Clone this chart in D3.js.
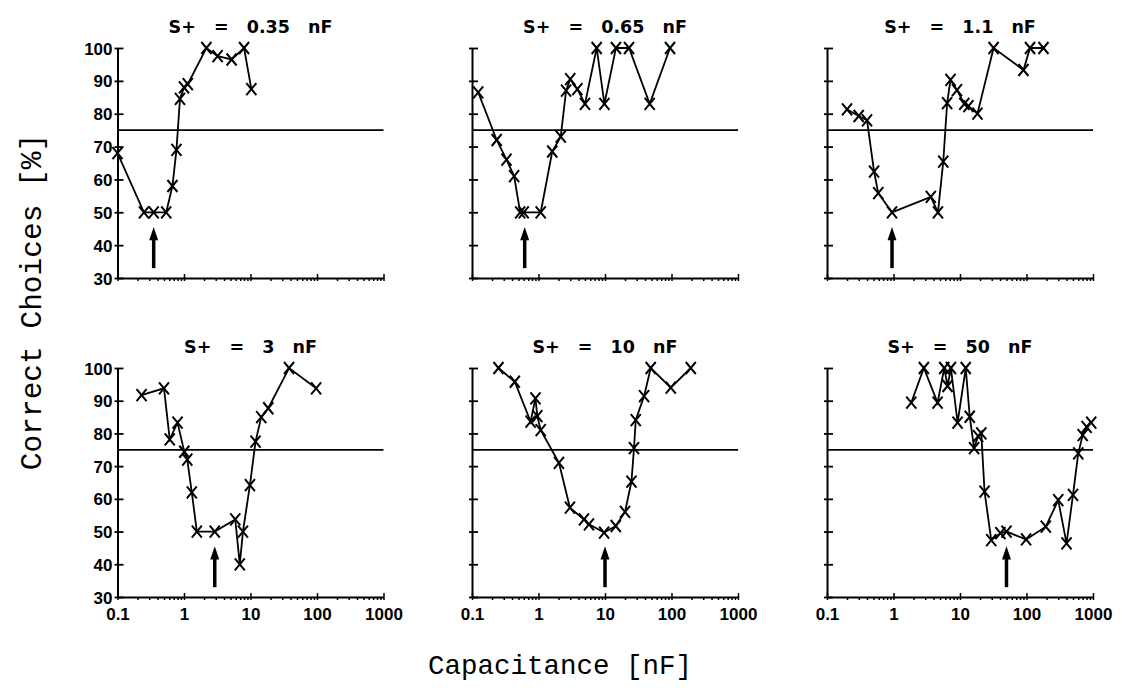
<!DOCTYPE html>
<html lang="en">
<head>
    <meta charset="UTF-8">
    <title>Correct choices vs capacitance</title>
    <script src="https://cdn.jsdelivr.net/npm/d3@7"></script>
    <style>
        body { margin: 0; background: #fff; }
    </style>
</head>
<body>

<script>

    const width = 1122;
    const height = 696;

    // one entry per panel
    const titles = ["S+ = 0.35 nF", "S+ = 0.65 nF", "S+ = 1.1 nF", "S+ = 3 nF", "S+ = 10 nF", "S+ = 50 nF"];
    const arrow_at = [0.35, 0.62, 0.95, 2.9, 10, 50];

    const cap_035 = [0.1, 0.25, 0.35, 0.54, 0.67, 0.77, 0.87, 1.0, 1.14, 2.17, 3.2, 5.2, 8.0, 10.3];
    const pct_035 = [68, 50, 50, 50, 58, 69, 84.5, 88, 89, 100, 97.5, 96.5, 100, 87.5];

    const cap_065 = [0.124, 0.235, 0.33, 0.43, 0.53, 0.6, 1.08, 1.61, 2.16, 2.6, 3.0, 3.84, 5.0, 7.5, 9.8, 14.6, 23, 47, 95];
    const pct_065 = [86.5, 72, 66, 61, 50, 50, 50, 68.5, 73, 87, 90.5, 87.5, 83, 100, 83, 100, 100, 83, 100];

    const cap_11 = [0.2, 0.3, 0.4, 0.51, 0.59, 0.95, 3.64, 4.66, 5.6, 6.4, 7.2, 9.0, 11.6, 13.4, 18.3, 32, 90, 113, 180];
    const pct_11 = [81.3, 79.3, 78, 62.4, 55.8, 50, 54.7, 50, 65.4, 83.2, 90.3, 87.2, 83, 82.3, 80, 100, 93.3, 100, 100];

    const cap_3 = [0.23, 0.5, 0.61, 0.8, 1.01, 1.12, 1.31, 1.56, 2.9, 5.9, 6.9, 7.7, 9.8, 11.9, 14.5, 18.5, 38, 97];
    const pct_3 = [91.7, 93.8, 78.2, 83.3, 74.4, 72, 62, 50, 50, 53.7, 40, 50, 64.2, 77.5, 85, 87.7, 100, 93.8];

    const cap_10 = [0.25, 0.44, 0.76, 0.9, 0.96, 1.08, 2.03, 2.97, 4.83, 5.74, 9.7, 14.5, 20, 25, 27.3, 29, 38.7, 48.7, 97.5, 195];
    const pct_10 = [100, 95.8, 83.6, 90.7, 85.3, 81, 71, 57.3, 53.7, 52.2, 49.7, 51.7, 56, 65.3, 75.5, 84.1, 91.4, 100, 94, 100];

    const cap_50 = [1.85, 2.86, 4.6, 5.8, 6.5, 7.3, 9.2, 12.2, 14, 16.3, 18.7, 20.9, 23.4, 29.5, 40.5, 50, 98.6, 195, 300, 400, 500, 600, 700, 800, 940];
    const pct_50 = [89.4, 100, 89.4, 100, 94.5, 100, 83.3, 100, 85.1, 75.5, 79.2, 80, 62.2, 47.4, 49.5, 50, 47.6, 51.5, 59.6, 46.4, 61.2, 73.9, 79.5, 82, 83.3];

    const caps = [cap_035, cap_065, cap_11, cap_3, cap_10, cap_50];
    const pcts = [pct_035, pct_065, pct_11, pct_3, pct_10, pct_50];

    const criterion = 75;
    const y_ticks = [30, 40, 50, 60, 70, 80, 90, 100];
    const decades = [0.1, 1, 10, 100, 1000];
    const x_ticks = d3.range(-1, 3).flatMap(e => d3.range(1, 10).map(m => +(m * Math.pow(10, e)).toPrecision(3))).concat([1000]);

    // layout of the 3x2 grid
    const col_x = [117.5, 472, 827];
    const row_y = [[48, 278], [368, 597]];
    const panel_w = 266;

    const svg = d3.select("body").append("svg")
        .attr("width", width)
        .attr("height", height)
        .style("font-family", "'DejaVu Sans', sans-serif");

    caps.forEach((cap, i) => {
        const col = i % 3, row = Math.floor(i / 3);
        const x0 = col_x[col];
        const [y_top, y_bot] = row_y[row];

        const x = d3.scaleLog().domain([0.1, 1000]).range([x0, x0 + panel_w]);
        const y = d3.scaleLinear().domain([30, 100]).range([y_bot, y_top]);

        const g = svg.append("g");

        // y axis
        const ya = g.append("g")
            .attr("transform", `translate(${x0},0)`)
            .call(d3.axisLeft(y).tickValues(y_ticks).tickSize(3).tickSizeOuter(0).tickPadding(2)
                .tickFormat(col === 0 ? d3.format("d") : () => ""));
        ya.select(".domain").attr("stroke-width", 2);
        ya.selectAll(".tick line").attr("x1", 6).attr("stroke-width", 1.8);
        ya.selectAll("text").attr("font-size", 17).attr("font-weight", "bold").attr("dy", "0.36em").attr("fill", "#000");

        // x axis
        const xa = g.append("g")
            .attr("transform", `translate(0,${y_bot})`)
            .call(d3.axisBottom(x).tickValues(x_ticks).tickSize(3).tickSizeOuter(0).tickPadding(8)
                .tickFormat(d => (row === 1 && decades.includes(d)) ? String(d) : ""));
        xa.select(".domain").attr("stroke-width", 2);
        xa.selectAll(".tick line")
            .attr("stroke-width", 1.5)
            .attr("y1", d => decades.includes(d) ? -4 : 0);
        xa.selectAll("text").attr("font-size", 17).attr("font-weight", "bold").attr("fill", "#000");

        // 75 % criterion line
        g.append("line")
            .attr("x1", x0).attr("x2", x0 + panel_w)
            .attr("y1", y(criterion)).attr("y2", y(criterion))
            .attr("stroke", "#000").attr("stroke-width", 1.8);

        const pts = cap.map((c, j) => [c, pcts[i][j]]);

        g.append("path")
            .datum(pts)
            .attr("fill", "none")
            .attr("stroke", "#000")
            .attr("stroke-width", 1.8)
            .attr("d", d3.line().x(d => x(d[0])).y(d => y(d[1])));

        g.append("g")
            .selectAll("path")
            .data(pts)
            .join("path")
            .attr("transform", d => `translate(${x(d[0])},${y(d[1])})`)
            .attr("d", "M-5,-6L5,6M-5,6L5,-6")
            .attr("stroke", "#000")
            .attr("stroke-width", 2)
            .attr("fill", "none");

        // arrow at S+
        const ax = x(arrow_at[i]);
        g.append("line")
            .attr("x1", ax).attr("x2", ax)
            .attr("y1", y(33)).attr("y2", y(42))
            .attr("stroke", "#000").attr("stroke-width", 3.5);
        g.append("path")
            .attr("d", `M${ax - 4.5},${y(41.5)}L${ax},${y(45.5)}L${ax + 4.5},${y(41.5)}Z`)
            .attr("fill", "#000");

        // panel title
        g.append("text")
            .attr("x", x0 + panel_w / 2)
            .attr("y", y_top - 15)
            .attr("text-anchor", "middle")
            .attr("font-size", 17.5)
            .attr("font-weight", "bold")
            .style("word-spacing", "12px")
            .text(titles[i]);
    });

    // shared axis titles
    svg.append("text")
        .attr("transform", "translate(41,302) rotate(-90)")
        .attr("text-anchor", "middle")
        .attr("font-family", "'Liberation Mono', monospace")
        .attr("font-size", 29.5)
        .text("Correct Choices [%]");

    svg.append("text")
        .attr("x", 560)
        .attr("y", 674)
        .attr("text-anchor", "middle")
        .attr("font-family", "'Liberation Mono', monospace")
        .attr("font-size", 27.5)
        .text("Capacitance [nF]");

</script>

</body>
</html>
